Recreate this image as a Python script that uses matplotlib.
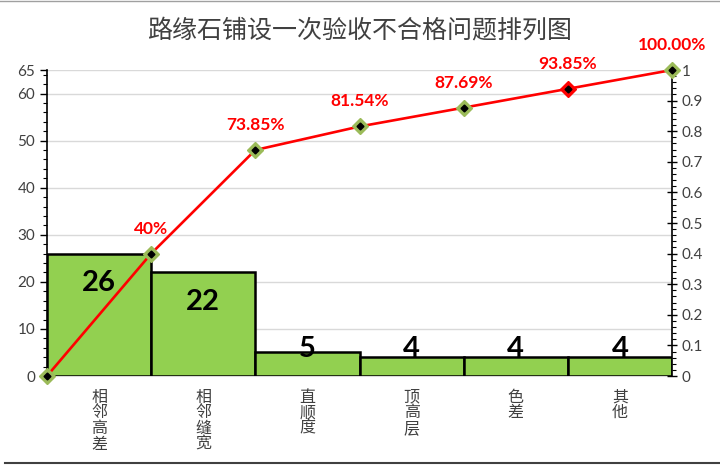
import matplotlib.pyplot as plt
from matplotlib.lines import Line2D
from matplotlib.ticker import MultipleLocator

plt.rcParams['font.family'] = ['Lato', 'Noto Sans CJK SC', 'DejaVu Sans']

title = "路缘石铺设一次验收不合格问题排列图"
categories = ["相邻高差", "相邻缝宽", "直顺度", "顶高层", "色差", "其他"]
counts = [26, 22, 5, 4, 4, 4]
cum_ratio = [0, 0.40, 0.7385, 0.8154, 0.8769, 0.9385, 1.0]
cum_labels = ["", "40%", "73.85%", "81.54%", "87.69%", "93.85%", "100.00%"]

fig = plt.figure(figsize=(7.2, 4.65), dpi=100)
ax = fig.add_axes([47 / 720, 1 - 376 / 465, 625 / 720, 306 / 465])

xs = range(len(counts))
ax.bar(xs, counts, width=1.0, align="edge", color="#92D050",
       edgecolor="black", linewidth=1.8, zorder=3)
for i, v in enumerate(counts):
    ax.text(i + 0.5, max(v - 6.3, 5.7), str(v), ha="center", va="center",
            fontsize=21, fontweight="bold", color="black", zorder=4)

ax.set_xlim(0, len(counts))
ax.set_ylim(0, 65)
ax.set_yticks([0, 10, 20, 30, 40, 50, 60, 65])
ax.yaxis.set_minor_locator(MultipleLocator(2))
ax.grid(axis="y", color="#D9D9D9", linewidth=1, zorder=0)
ax.set_axisbelow(True)
ax.tick_params(axis="y", labelsize=11, colors="black", labelcolor="#404040")
ax.tick_params(axis="y", which="major", length=5, width=1)
ax.tick_params(axis="y", which="minor", length=3, width=0.8)

ax.set_xticks([i + 0.5 for i in xs])
ax.set_xticklabels(["\n".join(c) for c in categories], fontsize=11.5,
                   color="#404040", va="top", linespacing=0.9,
                   family=["Noto Sans CJK SC"])
ax.tick_params(axis="x", length=0, pad=9)

for s in ["top", "right"]:
    ax.spines[s].set_visible(False)
ax.spines["left"].set_color("black")
ax.spines["left"].set_linewidth(1.2)
ax.spines["bottom"].set_color("#D9D9D9")
ax.spines["bottom"].set_linewidth(1.5)

ax2 = ax.twinx()
ax2.set_ylim(0, 1)
ax2.yaxis.set_minor_locator(MultipleLocator(0.02))
ax2.set_yticks([round(0.1 * k, 1) for k in range(11)])
ax2.set_yticklabels(["0"] + [f"{0.1 * k:.1f}" for k in range(1, 10)] + ["1"])
ax2.tick_params(axis="y", labelsize=11, labelcolor="#404040")
ax2.tick_params(axis="y", which="major", direction="inout", length=7, width=1)
ax2.tick_params(axis="y", which="minor", direction="out", length=3, width=0.8)
for s in ["top", "left", "bottom"]:
    ax2.spines[s].set_visible(False)
ax2.spines["right"].set_color("black")
ax2.spines["right"].set_linewidth(1.2)

px = list(range(len(cum_ratio)))
ax2.plot(px, cum_ratio, color="red", linewidth=1.9, zorder=5, clip_on=False)
outer = ["#9BBB59"] * len(cum_ratio)
outer[5] = "red"
for x, y, c in zip(px, cum_ratio, outer):
    ax2.plot(x, y, marker="D", markersize=8, color=c, markeredgecolor=c,
             linestyle="none", zorder=6, clip_on=False)
    ax2.plot(x, y, marker="D", markersize=3.5, color="black",
             linestyle="none", zorder=7, clip_on=False)
for x, y, lab in zip(px, cum_ratio, cum_labels):
    if lab:
        ax2.annotate(lab, (x, y), xytext=(0, 18), textcoords="offset points",
                     ha="center", va="center", fontsize=12.5, fontweight="bold",
                     color="red", annotation_clip=False)

fig.text(0.5, 1 - 30 / 465, title, ha="center", va="center", fontsize=18,
         color="#404040", family=["Noto Sans CJK SC"])

fig.add_artist(Line2D([0, 1], [1 - 1 / 465, 1 - 1 / 465], color="#A0A0A0",
                      linewidth=1, transform=fig.transFigure))
fig.add_artist(Line2D([0.007, 1], [2 / 465, 2 / 465], color="#404040",
                      linewidth=1.5, transform=fig.transFigure))

fig.savefig("out.png", dpi=100)
